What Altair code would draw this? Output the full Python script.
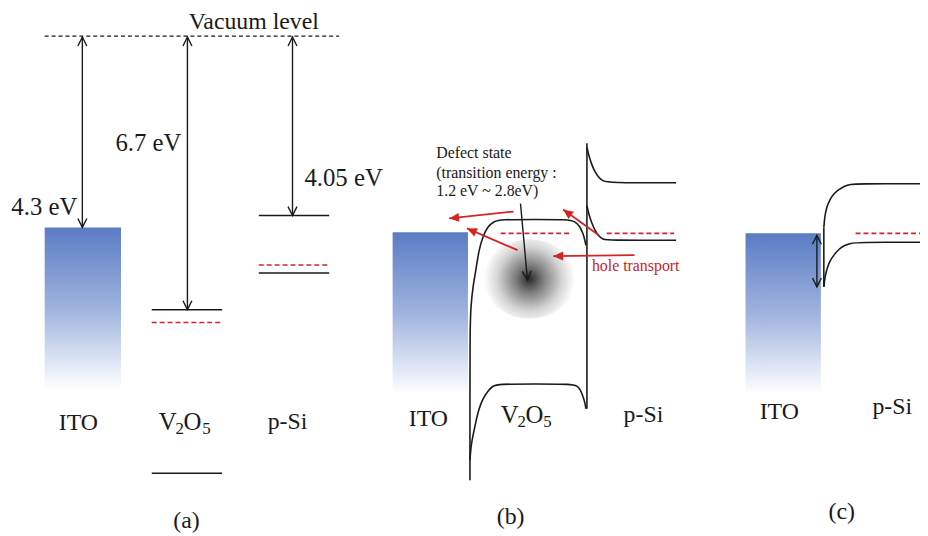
import math
import altair as alt
import pandas as pd

# ---------------- data (reference pixel coordinates) ----------------
XD = [8, 928]
YD = [8, 536]
W, H = 920, 528

# ITO metal blocks: x0, x1, ytop, ybottom
ito_x1 = [45, 396, 752]
ito_x2 = [122, 472, 828]
ito_top = [227, 232, 233]
ito_bot = [390, 395, 395]

# solid black energy levels
lvl_x1 = [153, 153, 261, 261]
lvl_x2 = [224, 224, 332, 332]
lvl_y = [310, 475, 215, 273]

# red dashed Fermi levels
ef_x1 = [153, 261, 505, 612, 863]
ef_x2 = [224, 332, 575, 680, 928]
ef_y = [323, 265, 233, 233, 233]

# vacuum level (black dashed)
vac_x1 = [45]
vac_x2 = [342]
vac_y = [34]

# interface vertical lines
vert_x = [592, 831]
vert_top = [142, 227]
vert_bot = [410, 287]

# double-headed black arrows
da_x = [83, 189, 295, 824]
da_top = [35, 35, 35, 235]
da_bot = [227, 310, 215, 287]

# single black arrow (defect transition)
sa_x1 = [525]
sa_y1 = [203]
sa_x2 = [532]
sa_y2 = [280]

# red arrows: start -> tip
ra_x1 = [518, 522, 604, 640]
ra_y1 = [211, 250, 235, 255]
ra_x2 = [453, 471, 568, 558]
ra_y2 = [218, 228, 209, 256]

# band-bending curves
curves = {
    "v2o5_upper": ([474, 474, 474, 475, 477, 480, 483, 487, 492, 498, 505, 540, 573, 580, 585, 588, 590, 591],
                   [482, 400, 330, 305, 287, 270, 250, 236, 226, 221, 219, 219, 219, 221, 226, 233, 240, 245]),
    "v2o5_lower": ([474, 475, 477, 480, 483, 487, 492, 497, 502, 540, 577, 582, 585, 588, 590, 591],
                   [462, 448, 437, 423, 410, 400, 392, 387, 385, 385, 385, 387, 390, 397, 404, 410]),
    "psi_b_upper": ([592, 594, 597, 600, 604, 608, 613, 682],
                    [146, 155, 164, 171, 177, 180, 182, 182]),
    "psi_b_lower": ([592, 594, 597, 600, 604, 608, 613, 682],
                    [205, 214, 223, 230, 236, 239, 240, 240]),
    "psi_c_upper": ([831, 832, 834, 837, 841, 846, 852, 858, 864, 928],
                    [227, 215, 206, 199, 193, 189, 185, 183.5, 183, 183]),
    "psi_c_lower": ([831, 832, 834, 837, 841, 846, 852, 858, 864, 928],
                    [287, 278, 269, 261, 255, 249, 245, 243, 242, 242]),
}

# defect-state blob
blob_x = [534]
blob_y = [279]

# texts
tc_text = ["Vacuum level", "ITO", "p-Si", "(a)", "ITO", "p-Si", "(b)", "ITO", "p-Si", "(c)"]
tc_x = [256, 79, 290, 188, 432, 649, 515, 786, 900, 849]
tc_y = [27, 431, 430, 530, 427, 423, 526, 420, 415, 521]

tr_text = ["4.3 eV", "6.7 eV"]
tr_x = [78, 183]
tr_y = [215, 150]

tl_text = ["4.05 eV"]
tl_x = [307]
tl_y = [185]

# V2O5 pieces: main letters and subscripts
vm_text = ["V", "O", "V", "O"]
vm_x = [160, 185, 505, 530]
vm_y = [431, 431, 424, 424]
vs_text = ["2", "5", "2", "5"]
vs_x = [177, 204, 522, 548]
vs_y = [435, 435, 428, 428]

defect_text = ["Defect state", "(transition energy :", "1.2 eV ~ 2.8eV)"]
defect_x = [440, 440, 440]
defect_y = [157, 177, 195]

hole_text = ["hole transport"]
hole_x = [597]
hole_y = [271]

BLACK = "#1a1a1a"
RED = "#d42424"
FONT = "Times New Roman, Liberation Serif, serif"

# ---------------- helpers ----------------
xs = alt.Scale(domain=XD, nice=False, zero=False)
ys = alt.Scale(domain=YD, nice=False, zero=False, reverse=True)


def X(f="x"):
    return alt.X(f"{f}:Q", scale=xs, axis=None)


def Y(f="y"):
    return alt.Y(f"{f}:Q", scale=ys, axis=None)


def ang(dx, dy):
    # symbol path points downward by default; clockwise rotation
    return (math.degrees(math.atan2(-dx, dy))) % 360


# ---------------- layers ----------------
ito_df = pd.DataFrame({"x": ito_x1, "x2": ito_x2, "y": ito_top, "y2": ito_bot})
ito_grad = alt.LinearGradient(
    gradient="linear", x1=0, x2=0, y1=0, y2=1,
    stops=[alt.GradientStop(offset=0, color="#5b7cc4"),
           alt.GradientStop(offset=0.5, color="#9fb3de"),
           alt.GradientStop(offset=1, color="#ffffff")])
ito = alt.Chart(ito_df).mark_rect(fill=ito_grad, stroke=None).encode(
    x=X(), x2="x2:Q", y=Y(), y2="y2:Q")

blob_df = pd.DataFrame({"x": blob_x, "y": blob_y})
blob_grad = alt.RadialGradient(
    gradient="radial", x1=0.5, y1=0.5, r1=0, x2=0.5, y2=0.5, r2=0.5,
    stops=[alt.GradientStop(offset=0, color="#2a2a2a"),
           alt.GradientStop(offset=0.3, color="#7d7d7d"),
           alt.GradientStop(offset=0.7, color="#d4d4d4"),
           alt.GradientStop(offset=1, color="#ffffff")])
blob = alt.Chart(blob_df).mark_point(
    shape="M-1,0A1,0.87,0,1,0,1,0A1,0.87,0,1,0,-1,0Z",
    size=92 * 92, filled=True, fill=blob_grad, opacity=1, strokeWidth=0
).encode(x=X(), y=Y())

lvl_df = pd.DataFrame({"x": lvl_x1, "x2": lvl_x2, "y": lvl_y})
levels = alt.Chart(lvl_df).mark_rule(color=BLACK, strokeWidth=1.6).encode(
    x=X(), x2="x2:Q", y=Y())

ef_df = pd.DataFrame({"x": ef_x1, "x2": ef_x2, "y": ef_y})
fermi = alt.Chart(ef_df).mark_rule(color=RED, strokeWidth=1.6, strokeDash=[5, 3]).encode(
    x=X(), x2="x2:Q", y=Y())

vac_df = pd.DataFrame({"x": vac_x1, "x2": vac_x2, "y": vac_y})
vac = alt.Chart(vac_df).mark_rule(color=BLACK, strokeWidth=1.2, strokeDash=[4, 3]).encode(
    x=X(), x2="x2:Q", y=Y())

vert_df = pd.DataFrame({"x": vert_x, "y": vert_top, "y2": vert_bot})
verts = alt.Chart(vert_df).mark_rule(color=BLACK, strokeWidth=1.6).encode(
    x=X(), y=Y(), y2="y2:Q")

rows = []
for name, (cx, cy) in curves.items():
    for i, (a, b) in enumerate(zip(cx, cy)):
        rows.append({"curve": name, "order": i, "x": a, "y": b})
curve_df = pd.DataFrame(rows)
bands = alt.Chart(curve_df).mark_line(
    color=BLACK, strokeWidth=1.6, interpolate="basis").encode(
    x=X(), y=Y(), detail="curve:N", order="order:Q")

# black arrows shafts
shaft_rows = []
head_rows = []
for x, t, b in zip(da_x, da_top, da_bot):
    shaft_rows.append({"x": x, "y": t, "x2": x, "y2": b})
    head_rows.append({"x": x, "y": t, "angle": 180})
    head_rows.append({"x": x, "y": b, "angle": 0})
for x1, y1, x2, y2 in zip(sa_x1, sa_y1, sa_x2, sa_y2):
    shaft_rows.append({"x": x1, "y": y1, "x2": x2, "y2": y2})
    head_rows.append({"x": x2, "y": y2, "angle": ang(x2 - x1, y2 - y1)})
shaft_df = pd.DataFrame(shaft_rows)
head_df = pd.DataFrame(head_rows)
shafts = alt.Chart(shaft_df).mark_rule(color=BLACK, strokeWidth=1.4).encode(
    x=X(), y=Y(), x2="x2:Q", y2="y2:Q")
heads = alt.Chart(head_df).mark_point(
    shape="M-0.5,-1L0,0L0.5,-1", size=18 * 18, filled=False, stroke=BLACK,
    strokeWidth=1.4, opacity=1).encode(
    x=X(), y=Y(), angle=alt.Angle("angle:Q", scale=None))

# red arrows
ra_df = pd.DataFrame({"x": ra_x1, "y": ra_y1, "x2": ra_x2, "y2": ra_y2})
ra_df["angle"] = [ang(b - a, d - c) for a, c, b, d in zip(ra_x1, ra_y1, ra_x2, ra_y2)]
red_shafts = alt.Chart(ra_df).mark_rule(color=RED, strokeWidth=1.8).encode(
    x=X(), y=Y(), x2="x2:Q", y2="y2:Q")
red_heads = alt.Chart(ra_df).mark_point(
    shape="M0,0L-0.45,-1L0.45,-1Z", size=20 * 20, filled=True, fill=RED,
    strokeWidth=0, opacity=1).encode(
    x=X("x2"), y=Y("y2"), angle=alt.Angle("angle:Q", scale=None))


def text_layer(texts, x, y, size, align, color=BLACK):
    df = pd.DataFrame({"t": texts, "x": x, "y": y})
    return alt.Chart(df).mark_text(
        font=FONT, fontSize=size, align=align, baseline="alphabetic", color=color
    ).encode(x=X(), y=Y(), text="t:N")


texts = [
    text_layer(tc_text, tc_x, tc_y, 24, "center"),
    text_layer(tr_text, tr_x, tr_y, 25, "right"),
    text_layer(tl_text, tl_x, tl_y, 25, "left"),
    text_layer(vm_text, vm_x, vm_y, 25, "left"),
    text_layer(vs_text, vs_x, vs_y, 17, "left"),
    text_layer(defect_text, defect_x, defect_y, 16, "left"),
    text_layer(hole_text, hole_x, hole_y, 16, "left", color="#c81e1e"),
]

chart = alt.layer(
    ito, blob, vac, levels, fermi, verts, bands, shafts, heads,
    red_shafts, red_heads, *texts
).properties(
    width=W, height=H, padding=0, autosize="none", background="white"
).configure_view(stroke=None)

chart.save("out.html", embed_options={"renderer": "svg", "actions": False})
